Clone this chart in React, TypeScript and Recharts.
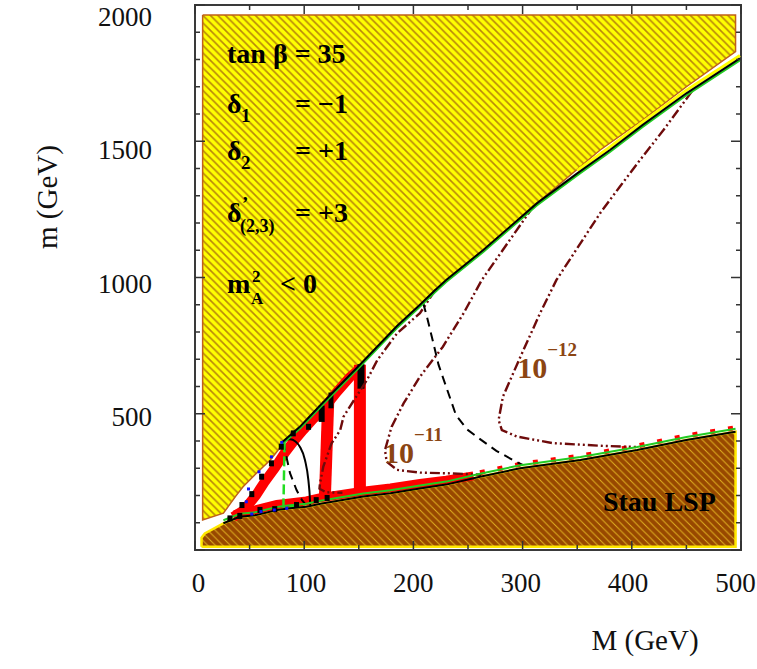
import React from "react";
import { ComposedChart, XAxis, YAxis, Area, Line, Scatter, ReferenceArea, Label } from "recharts";

const W = 757;
const H = 669;
const PLOT = { left: 195, right: 741, top: 5, bottom: 550 };
const SERIF = "'Liberation Serif', 'Times New Roman', serif";

// axis ticks
const xTicks = [0, 50, 100, 150, 200, 250, 300, 350, 400, 450, 500];
const yTicks = [0, 100, 200, 300, 400, 500, 600, 700, 800, 900, 1000, 1100, 1200, 1300, 1400, 1500, 1600, 1700, 1800, 1900, 2000];

// m_A^2 < 0 region (yellow): lower edge, flat top
const yellowEdgeM = [7, 26, 37, 44, 56, 69, 81, 96, 105, 115, 151, 185, 206, 220, 264, 313, 371, 410, 450, 495];
const yellowEdgem = [110, 135, 196, 232, 281, 330, 392, 452, 490, 532, 680, 822, 900, 954, 1101, 1272, 1468, 1578, 1700, 1829];
const yellowTopm = 1963;

// allowed-region upper boundary (black line)
const upperM = [80, 96, 105, 115, 151, 185, 206, 220, 230, 264, 313, 350, 380, 410, 450, 499];
const upperm = [396, 452, 490, 532, 680, 822, 900, 954, 991, 1101, 1272, 1382, 1468, 1560, 1676, 1804];

// stau LSP region (brown): upper edge, flat bottom
const stauM = [6, 9, 26, 41, 56, 75, 87, 102, 115, 154, 179, 206, 230, 261, 298, 353, 405, 450, 495];
const staum = [45, 61, 98, 122, 128, 147, 153, 159, 170, 196, 208, 226, 240, 269, 300, 330, 367, 404, 434];
const stauBottomm = 12;

// red cells (relic density band)
const redBandM = [35, 45, 56, 64, 73, 82, 90, 99, 108, 118, 130, 142, 150];
const redBandm = [121, 147, 202, 251, 300, 355, 397, 440, 480, 520, 580, 635, 662];
const redBar1M = [122, 119];
const redBar1m = [545, 200];
const redBar2M = [151, 151];
const redBar2m = [680, 205];
const redStripM = [36, 56, 75, 87, 102, 115, 154, 179, 206, 230, 255];
const redStripm = [130, 148, 167, 173, 180, 192, 216, 228, 244, 256, 272];

// black cells
const blackTop1M = [116, 116];
const blackTop1m = [530, 470];
const blackTop2M = [124.5, 124.5];
const blackTop2m = [578, 520];
const blackTop3M = [152, 152];
const blackTop3m = [682, 592];
const blackCellM = [32, 41, 43, 52, 61, 70, 79, 90, 59.5, 73, 93, 111, 121, 104];
const blackCellm = [116, 125, 165, 205, 269, 318, 379, 428, 147, 150, 165, 183, 191, 452];
const blueM = [47, 49, 58.6, 70, 79.4, 52, 60.4, 72.6, 84];
const bluem = [177, 224, 287, 342, 395, 132, 141, 147, 153];

// other lines
const greenM = [82, 81, 101];
const greenm = [395, 160, 160];
const solidLoopM = [81, 84, 87, 92, 96, 100.7, 103.8, 105.3, 105.5];
const solidLoopm = [397, 405, 406, 398, 379, 330, 257, 183, 165];
const smallDashM = [81, 83, 87, 93, 98, 101];
const smallDashm = [398, 355, 282, 220, 183, 168];
const bigDashM = [209, 212, 218, 223, 230, 239, 249, 262, 276, 292, 300];
const bigDashm = [905, 862, 764, 680, 599, 495, 443, 404, 364, 328, 312];

// dash-dot-dot contours
const contourAM = [220, 206, 185, 167, 157.5, 148, 136, 133, 125, 117.5, 114.5, 114, 120, 135];
const contourAm = [954, 869, 795, 697, 624, 565, 489, 440, 391, 306, 245, 225, 212, 210];
const contourBM = [310, 262.5, 246, 227, 206, 191, 180, 174, 175.5, 185, 206, 236, 262];
const contourBm = [1262, 990, 869, 746, 636, 538, 452, 367, 324, 294, 284, 281, 276];
const contourCM = [455, 429, 407.5, 389, 371, 331, 316, 298, 282, 278, 281, 295, 328, 374, 404];
const contourCm = [1683, 1541, 1431, 1333, 1236, 991, 869, 709, 563, 477, 440, 416, 392, 382, 378];

// text annotations (anchor = left end of baseline)
const noteKeys = ["tanb", "d1", "d2", "d23", "mA", "stau", "e11", "e12"];
const noteM = [29.3, 29.3, 29.3, 29.3, 29.3, 373.6, 173, 295];
const notem = [1787, 1604, 1431, 1204, 943, 143, 319, 631];

const pts = (M: number[], m: number[]) => M.map((x, i) => ({ M: x, m: m[i] }));

const yellowArea = yellowEdgeM.map((x, i) => ({ M: x, r: [yellowEdgem[i], yellowTopm] }));
const yellowOutline = [
  { M: yellowEdgeM[0], m: yellowTopm },
  { M: yellowEdgeM[yellowEdgeM.length - 1], m: yellowTopm },
  ...pts(yellowEdgeM, yellowEdgem).reverse(),
  { M: yellowEdgeM[0], m: yellowTopm },
];
const stauArea = stauM.map((x, i) => ({ M: x, r: [stauBottomm, staum[i]] }));
const stauOutline = [
  { M: stauM[0], m: stauBottomm },
  ...pts(stauM, staum),
  { M: stauM[stauM.length - 1], m: stauBottomm },
  { M: stauM[0], m: stauBottomm },
];
const upperLine = pts(upperM, upperm);
const upperFrill = upperLine.filter((p) => p.M >= 350);
const stauLine = pts(stauM, staum).filter((p) => p.M >= 24);
const stauRight = stauLine.filter((p) => p.M >= 240);
const notes = noteKeys.map((k, i) => ({ M: noteM[i], m: notem[i], k }));

const DASHDOT = "10 3 2 3 2 3";
const BROWN_TXT = "#8b4513";

const XTick = (props: any) => {
  const { x, y, payload } = props;
  const v = payload.value as number;
  const major = v % 100 === 0;
  const len = major ? 9 : 5;
  return (
    <g>
      <line x1={x} y1={y} x2={x} y2={y - len} stroke="#333" strokeWidth={1.5} />
      <line x1={x} y1={PLOT.top} x2={x} y2={PLOT.top + len} stroke="#333" strokeWidth={1.5} />
      {major && (
        <text x={x + 3.5 - (9 * v) / 500} y={y + 42} textAnchor="middle" fontFamily={SERIF} fontSize={27} fill="#111">
          {v}
        </text>
      )}
    </g>
  );
};

const YTick = (props: any) => {
  const { x, y, payload } = props;
  const v = payload.value as number;
  const major = v % 500 === 0;
  const len = major ? 10 : 5;
  return (
    <g>
      <line x1={x} y1={y} x2={x + len} y2={y} stroke="#333" strokeWidth={1.5} />
      <line x1={PLOT.right} y1={y} x2={PLOT.right - len} y2={y} stroke="#333" strokeWidth={1.5} />
      {major && v > 0 && (
        <text x={x - 43} y={y + 9 + 3 + (9 * (v - 500)) / 1500} textAnchor="end" fontFamily={SERIF} fontSize={27} fill="#111">
          {v}
        </text>
      )}
    </g>
  );
};

const Note = (p: any) => {
  const { cx, cy, payload } = p;
  const base = { fontFamily: SERIF, fontWeight: "bold" as const, fill: "#000" };
  switch (payload.k) {
    case "tanb":
      return (
        <text x={cx} y={cy} {...base} fontSize={28}>
          tan β = 35
        </text>
      );
    case "d1":
    case "d2":
      return (
        <g>
          <text x={cx} y={cy} {...base} fontSize={28}>
            δ
          </text>
          <text x={cx + 14} y={cy + 9} {...base} fontSize={19}>
            {payload.k === "d1" ? "1" : "2"}
          </text>
          <text x={cx + 68} y={cy} {...base} fontSize={28}>
            {payload.k === "d1" ? "= −1" : "= +1"}
          </text>
        </g>
      );
    case "d23":
      return (
        <g>
          <text x={cx} y={cy} {...base} fontSize={28}>
            δ
          </text>
          <text x={cx + 15} y={cy - 12} {...base} fontSize={19}>
            ’
          </text>
          <text x={cx + 13} y={cy + 10} {...base} fontSize={18}>
            (2,3)
          </text>
          <text x={cx + 68} y={cy} {...base} fontSize={28}>
            = +3
          </text>
        </g>
      );
    case "mA":
      return (
        <g>
          <text x={cx} y={cy} {...base} fontSize={28}>
            m
          </text>
          <text x={cx + 25} y={cy - 11} {...base} fontSize={17}>
            2
          </text>
          <text x={cx + 24} y={cy + 11} {...base} fontSize={17}>
            A
          </text>
          <text x={cx + 53} y={cy} {...base} fontSize={28}>
            &lt; 0
          </text>
        </g>
      );
    case "stau":
      return (
        <text x={cx} y={cy} {...base} fontSize={28}>
          Stau LSP
        </text>
      );
    case "e11":
    case "e12":
      return (
        <text x={cx} y={cy} fontFamily={SERIF} fontWeight="bold" fill={BROWN_TXT} fontSize={30}>
          10
          <tspan dy={-22} fontSize={19}>
            {payload.k === "e11" ? "−11" : "−12"}
          </tspan>
        </text>
      );
    default:
      return null;
  }
};

const Cell = (p: any) => <rect x={p.cx - 2.5} y={p.cy - 3} width={5} height={6} fill="#000" />;
const BlueDot = (p: any) => <rect x={p.cx - 1.5} y={p.cy - 1.5} width={3} height={3} fill="#1010ff" />;

const lineProps = { dot: false, activeDot: false, isAnimationActive: false, dataKey: "m", type: "linear" as const };

export default function App() {
  return (
    <div style={{ position: "absolute", left: 0, top: 0, width: W, height: H, background: "#fff" }}>
      <style>{`
        .shift-up { transform: translateY(-3px); }
        .shift-up2 { transform: translateY(-4px); }
        .shift-dn { transform: translateY(2px); }
      `}</style>
      <ComposedChart width={W} height={H} margin={{ top: PLOT.top, right: W - PLOT.right, bottom: 0, left: 0 }}>
        <defs>
          <pattern id="hatchYellow" width="7.5" height="7.5" patternUnits="userSpaceOnUse">
            <rect width="7.5" height="7.5" fill="#ffff00" />
            <path d="M0,0 L7.5,7.5 M-2,5.5 L2,9.5 M5.5,-2 L9.5,2" stroke="#b8860b" strokeWidth="1.6" />
          </pattern>
          <pattern id="hatchBrown" width="7.5" height="7.5" patternUnits="userSpaceOnUse">
            <rect width="7.5" height="7.5" fill="#984800" />
            <path d="M0,0 L7.5,7.5 M-2,5.5 L2,9.5 M5.5,-2 L9.5,2" stroke="#e0b020" strokeWidth="1" />
          </pattern>
        </defs>
        <XAxis
          type="number"
          dataKey="M"
          domain={[0, 500]}
          ticks={xTicks}
          interval={0}
          allowDataOverflow
          axisLine={false}
          tickLine={false}
          tickSize={0}
          tickMargin={0}
          height={H - PLOT.bottom}
          tick={(p: any) => <XTick {...p} />}
        >
          <Label
            content={(p: any) => (
              <text x={p.viewBox.x + 450} y={p.viewBox.y + 100} textAnchor="middle" fontFamily={SERIF} fontSize={29} fill="#111">
                M (GeV)
              </text>
            )}
          />
        </XAxis>
        <YAxis
          type="number"
          dataKey="m"
          domain={[0, 2000]}
          ticks={yTicks}
          interval={0}
          allowDataOverflow
          axisLine={false}
          tickLine={false}
          tickSize={0}
          tickMargin={0}
          width={PLOT.left}
          tick={(p: any) => <YTick {...p} />}
        >
          <Label
            content={(p: any) => (
              <text
                x={47}
                y={p.viewBox.y + 192}
                textAnchor="middle"
                fontFamily={SERIF}
                fontSize={29}
                fill="#111"
                transform={`rotate(-90 47 ${p.viewBox.y + 192})`}
                dominantBaseline="central"
              >
                m (GeV)
              </text>
            )}
          />
        </YAxis>

        {/* excluded regions */}
        <Area data={yellowArea} dataKey="r" type="linear" stroke="none" fill="url(#hatchYellow)" fillOpacity={1} isAnimationActive={false} activeDot={false} />
        <Area data={stauArea} dataKey="r" type="linear" stroke="none" fill="url(#hatchBrown)" fillOpacity={1} isAnimationActive={false} activeDot={false} />
        <Line data={yellowOutline} {...lineProps} stroke="#c0601a" strokeWidth={1.5} />
        <Line data={stauOutline} {...lineProps} stroke="#ffe800" strokeWidth={2.5} />

        {/* relic density cells */}
        <Line data={pts(redBandM, redBandm)} {...lineProps} stroke="#ff0000" strokeWidth={10} strokeLinejoin="miter" />
        <Line data={pts(redStripM, redStripm)} {...lineProps} stroke="#ff0000" strokeWidth={9} />
        <Line data={pts(redBar1M, redBar1m)} {...lineProps} stroke="#ff0000" strokeWidth={12} />
        <Line data={pts(redBar2M, redBar2m)} {...lineProps} stroke="#ff0000" strokeWidth={12} />
        <Line data={stauRight} {...lineProps} className="shift-up2" stroke="#ff0000" strokeWidth={5} strokeDasharray="5 13" />
        <Line data={pts(blackTop1M, blackTop1m)} {...lineProps} stroke="#000" strokeWidth={6} />
        <Line data={pts(blackTop2M, blackTop2m)} {...lineProps} stroke="#000" strokeWidth={5} />
        <Line data={pts(blackTop3M, blackTop3m)} {...lineProps} stroke="#000" strokeWidth={7} />

        {/* contours */}
        <Line data={pts(contourAM, contourAm)} {...lineProps} stroke="#6e0b0b" strokeWidth={2.4} strokeDasharray={DASHDOT} />
        <Line data={pts(contourBM, contourBm)} {...lineProps} stroke="#6e0b0b" strokeWidth={2.4} strokeDasharray={DASHDOT} />
        <Line data={pts(contourCM, contourCm)} {...lineProps} stroke="#6e0b0b" strokeWidth={2.4} strokeDasharray={DASHDOT} />
        <Line data={pts(bigDashM, bigDashm)} {...lineProps} stroke="#000" strokeWidth={2} strokeDasharray="9 6" />
        <Line data={pts(smallDashM, smallDashm)} {...lineProps} stroke="#000" strokeWidth={2} strokeDasharray="9 6" />
        <Line data={pts(greenM, greenm)} {...lineProps} stroke="#22dd22" strokeWidth={2.5} strokeDasharray="10 4" />
        <Line data={pts(solidLoopM, solidLoopm)} {...lineProps} type="monotone" stroke="#000" strokeWidth={2} />

        {/* boundaries */}
        <Line data={upperFrill} {...lineProps} className="shift-up" stroke="#ffff00" strokeWidth={3} />
        <Line data={upperLine} {...lineProps} className="shift-dn" stroke="#22cc22" strokeWidth={2} />
        <Line data={upperLine} {...lineProps} stroke="#000" strokeWidth={2} />
        <Line data={stauLine} {...lineProps} className="shift-up" stroke="#22cc22" strokeWidth={2} />
        <Line data={stauLine} {...lineProps} stroke="#000" strokeWidth={2} />

        <Scatter data={pts(blackCellM, blackCellm)} shape={Cell} isAnimationActive={false} />
        <Scatter data={pts(blueM, bluem)} shape={BlueDot} isAnimationActive={false} />
        <Scatter data={notes} shape={Note} isAnimationActive={false} />

        <ReferenceArea x1={0} x2={500} y1={0} y2={2000} fill="none" stroke="#3a3a3a" strokeWidth={2} ifOverflow="visible" />
      </ComposedChart>
    </div>
  );
}
